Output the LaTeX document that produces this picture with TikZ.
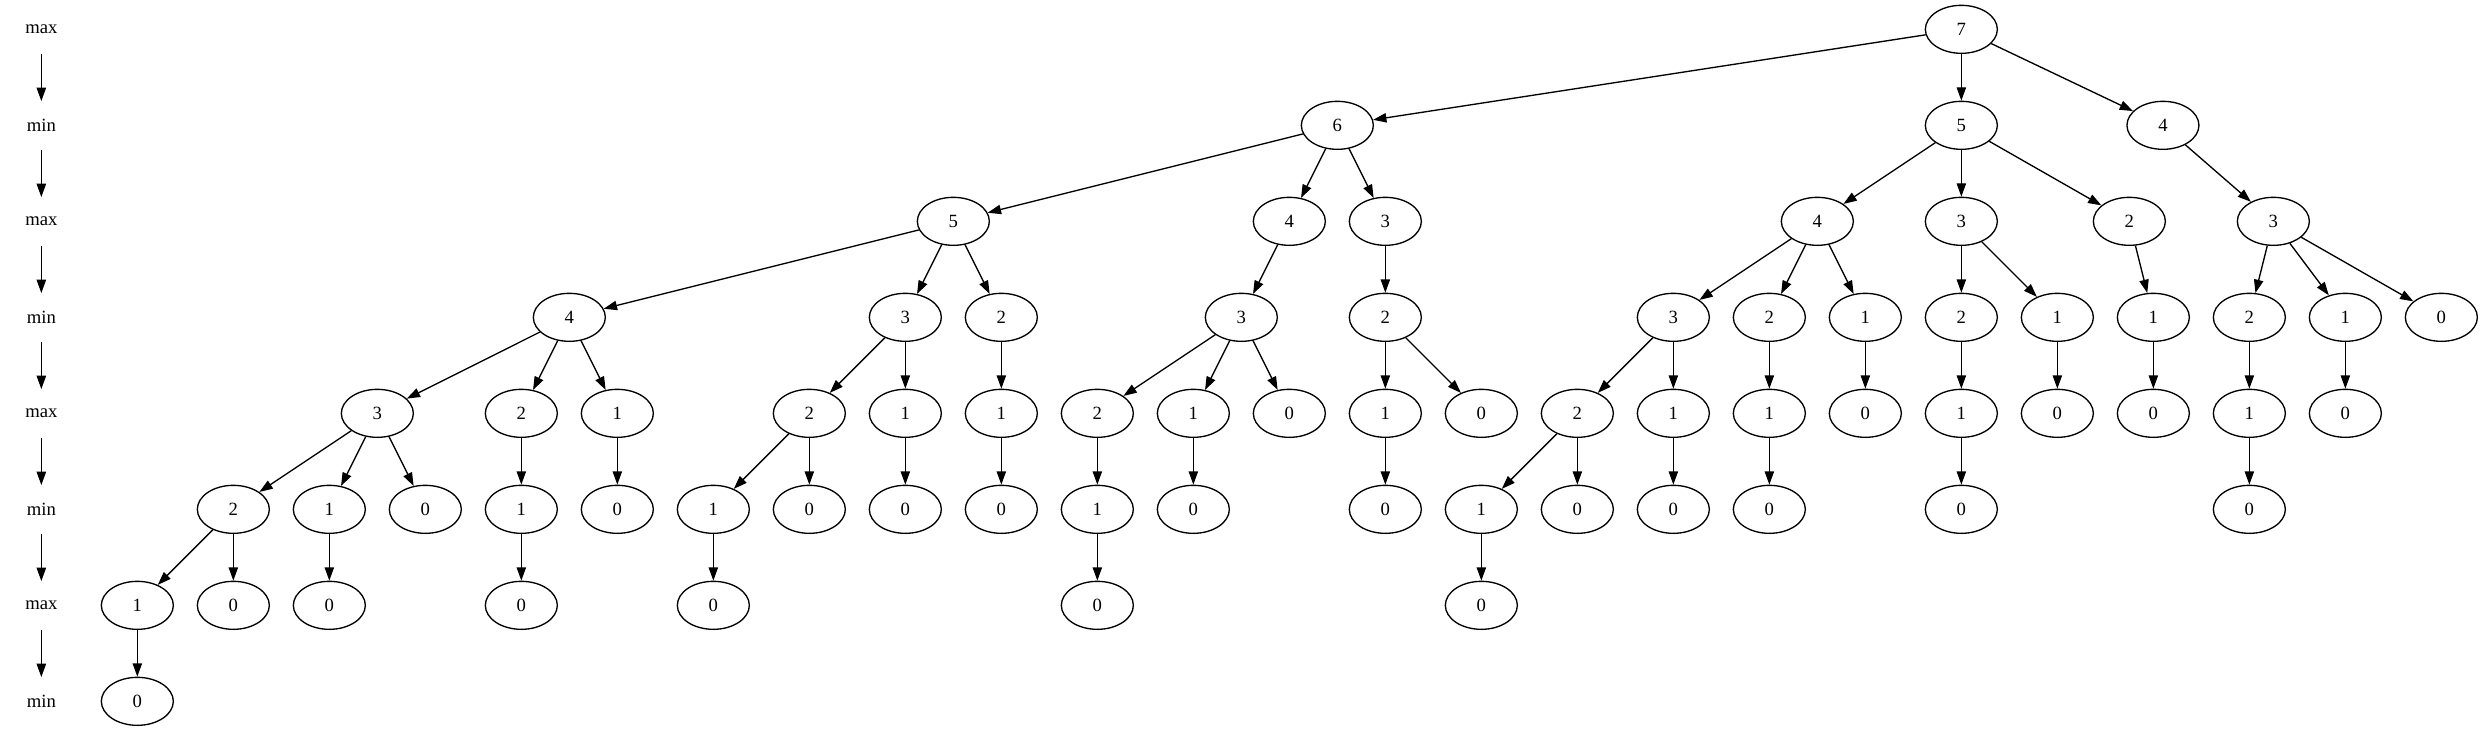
\documentclass[tikz,border=0pt]{standalone}
\usepackage{fontspec}
\setmainfont{Liberation Serif}
\usetikzlibrary{shapes.geometric,arrows.meta}
\begin{document}
\begin{tikzpicture}[x=72pt,y=-72pt,
  nd/.style={draw,ellipse,line width=1pt,minimum width=54pt,minimum height=36pt,inner sep=0pt,font=\fontsize{14}{16}\selectfont},
  lbl/.style={rectangle,minimum width=54pt,minimum height=36pt,inner sep=0pt,font=\fontsize{14}{16}\selectfont},
  edge/.style={line width=1pt,-{Triangle[length=10pt,width=7pt]}}]
\useasboundingbox (-31pt,22pt) rectangle (1831.25pt,-526.25pt);
% level labels
\node[lbl] (L0) at (0,0) {max};
\node[lbl] (L1) at (0,1) {min};
\node[lbl] (L2) at (0,2) {max};
\node[lbl] (L3) at (0,3) {min};
\node[lbl] (L4) at (0,4) {max};
\node[lbl] (L5) at (0,5) {min};
\node[lbl] (L6) at (0,6) {max};
\node[lbl] (L7) at (0,7) {min};
\foreach \a/\b in {L0/L1,L1/L2,L2/L3,L3/L4,L4/L5,L5/L6,L6/L7} \draw[edge] (\a) -- (\b);
% row 0
\node[nd] (r0a) at (20,0) {7};
% row 1
\node[nd] (r1a) at (13.5,1) {6};
\node[nd] (r1b) at (20,1) {5};
\node[nd] (r1c) at (22.1,1) {4};
% row 2
\node[nd] (r2a) at (9.5,2) {5};
\node[nd] (r2b) at (13,2) {4};
\node[nd] (r2c) at (14,2) {3};
\node[nd] (r2d) at (18.5,2) {4};
\node[nd] (r2e) at (20,2) {3};
\node[nd] (r2f) at (21.75,2) {2};
\node[nd] (r2g) at (23.25,2) {3};
% row 3
\node[nd] (r3a) at (5.5,3) {4};
\node[nd] (r3b) at (9,3) {3};
\node[nd] (r3c) at (10,3) {2};
\node[nd] (r3d) at (12.5,3) {3};
\node[nd] (r3e) at (14,3) {2};
\node[nd] (r3f) at (17,3) {3};
\node[nd] (r3g) at (18,3) {2};
\node[nd] (r3h) at (19,3) {1};
\node[nd] (r3i) at (20,3) {2};
\node[nd] (r3j) at (21,3) {1};
\node[nd] (r3k) at (22,3) {1};
\node[nd] (r3l) at (23,3) {2};
\node[nd] (r3m) at (24,3) {1};
\node[nd] (r3n) at (25,3) {0};
% row 4
\node[nd] (r4a) at (3.5,4) {3};
\node[nd] (r4b) at (5,4) {2};
\node[nd] (r4c) at (6,4) {1};
\node[nd] (r4d) at (8,4) {2};
\node[nd] (r4e) at (9,4) {1};
\node[nd] (r4f) at (10,4) {1};
\node[nd] (r4g) at (11,4) {2};
\node[nd] (r4h) at (12,4) {1};
\node[nd] (r4i) at (13,4) {0};
\node[nd] (r4j) at (14,4) {1};
\node[nd] (r4k) at (15,4) {0};
\node[nd] (r4l) at (16,4) {2};
\node[nd] (r4m) at (17,4) {1};
\node[nd] (r4n) at (18,4) {1};
\node[nd] (r4o) at (19,4) {0};
\node[nd] (r4p) at (20,4) {1};
\node[nd] (r4q) at (21,4) {0};
\node[nd] (r4r) at (22,4) {0};
\node[nd] (r4s) at (23,4) {1};
\node[nd] (r4t) at (24,4) {0};
% row 5
\node[nd] (r5a) at (2,5) {2};
\node[nd] (r5b) at (3,5) {1};
\node[nd] (r5c) at (4,5) {0};
\node[nd] (r5d) at (5,5) {1};
\node[nd] (r5e) at (6,5) {0};
\node[nd] (r5f) at (7,5) {1};
\node[nd] (r5g) at (8,5) {0};
\node[nd] (r5h) at (9,5) {0};
\node[nd] (r5i) at (10,5) {0};
\node[nd] (r5j) at (11,5) {1};
\node[nd] (r5k) at (12,5) {0};
\node[nd] (r5l) at (14,5) {0};
\node[nd] (r5m) at (15,5) {1};
\node[nd] (r5n) at (16,5) {0};
\node[nd] (r5o) at (17,5) {0};
\node[nd] (r5p) at (18,5) {0};
\node[nd] (r5q) at (20,5) {0};
\node[nd] (r5r) at (23,5) {0};
% row 6
\node[nd] (r6a) at (1,6) {1};
\node[nd] (r6b) at (2,6) {0};
\node[nd] (r6c) at (3,6) {0};
\node[nd] (r6d) at (5,6) {0};
\node[nd] (r6e) at (7,6) {0};
\node[nd] (r6f) at (11,6) {0};
\node[nd] (r6g) at (15,6) {0};
% row 7
\node[nd] (r7a) at (1,7) {0};
% edges
\foreach \a/\b in {r0a/r1a,r0a/r1b,r0a/r1c,
  r1a/r2a,r1a/r2b,r1a/r2c,r1b/r2d,r1b/r2e,r1b/r2f,r1c/r2g,
  r2a/r3a,r2a/r3b,r2a/r3c,r2b/r3d,r2c/r3e,r2d/r3f,r2d/r3g,r2d/r3h,r2e/r3i,r2e/r3j,r2f/r3k,r2g/r3l,r2g/r3m,r2g/r3n,
  r3a/r4a,r3a/r4b,r3a/r4c,r3b/r4d,r3b/r4e,r3c/r4f,r3d/r4g,r3d/r4h,r3d/r4i,r3e/r4j,r3e/r4k,r3f/r4l,r3f/r4m,r3g/r4n,r3h/r4o,r3i/r4p,r3j/r4q,r3k/r4r,r3l/r4s,r3m/r4t,
  r4a/r5a,r4a/r5b,r4a/r5c,r4b/r5d,r4c/r5e,r4d/r5f,r4d/r5g,r4e/r5h,r4f/r5i,r4g/r5j,r4h/r5k,r4j/r5l,r4l/r5m,r4l/r5n,r4m/r5o,r4n/r5p,r4p/r5q,r4s/r5r,
  r5a/r6a,r5a/r6b,r5b/r6c,r5d/r6d,r5f/r6e,r5j/r6f,r5m/r6g,
  r6a/r7a}
  \draw[edge] (\a) -- (\b);
\end{tikzpicture}
\end{document}
